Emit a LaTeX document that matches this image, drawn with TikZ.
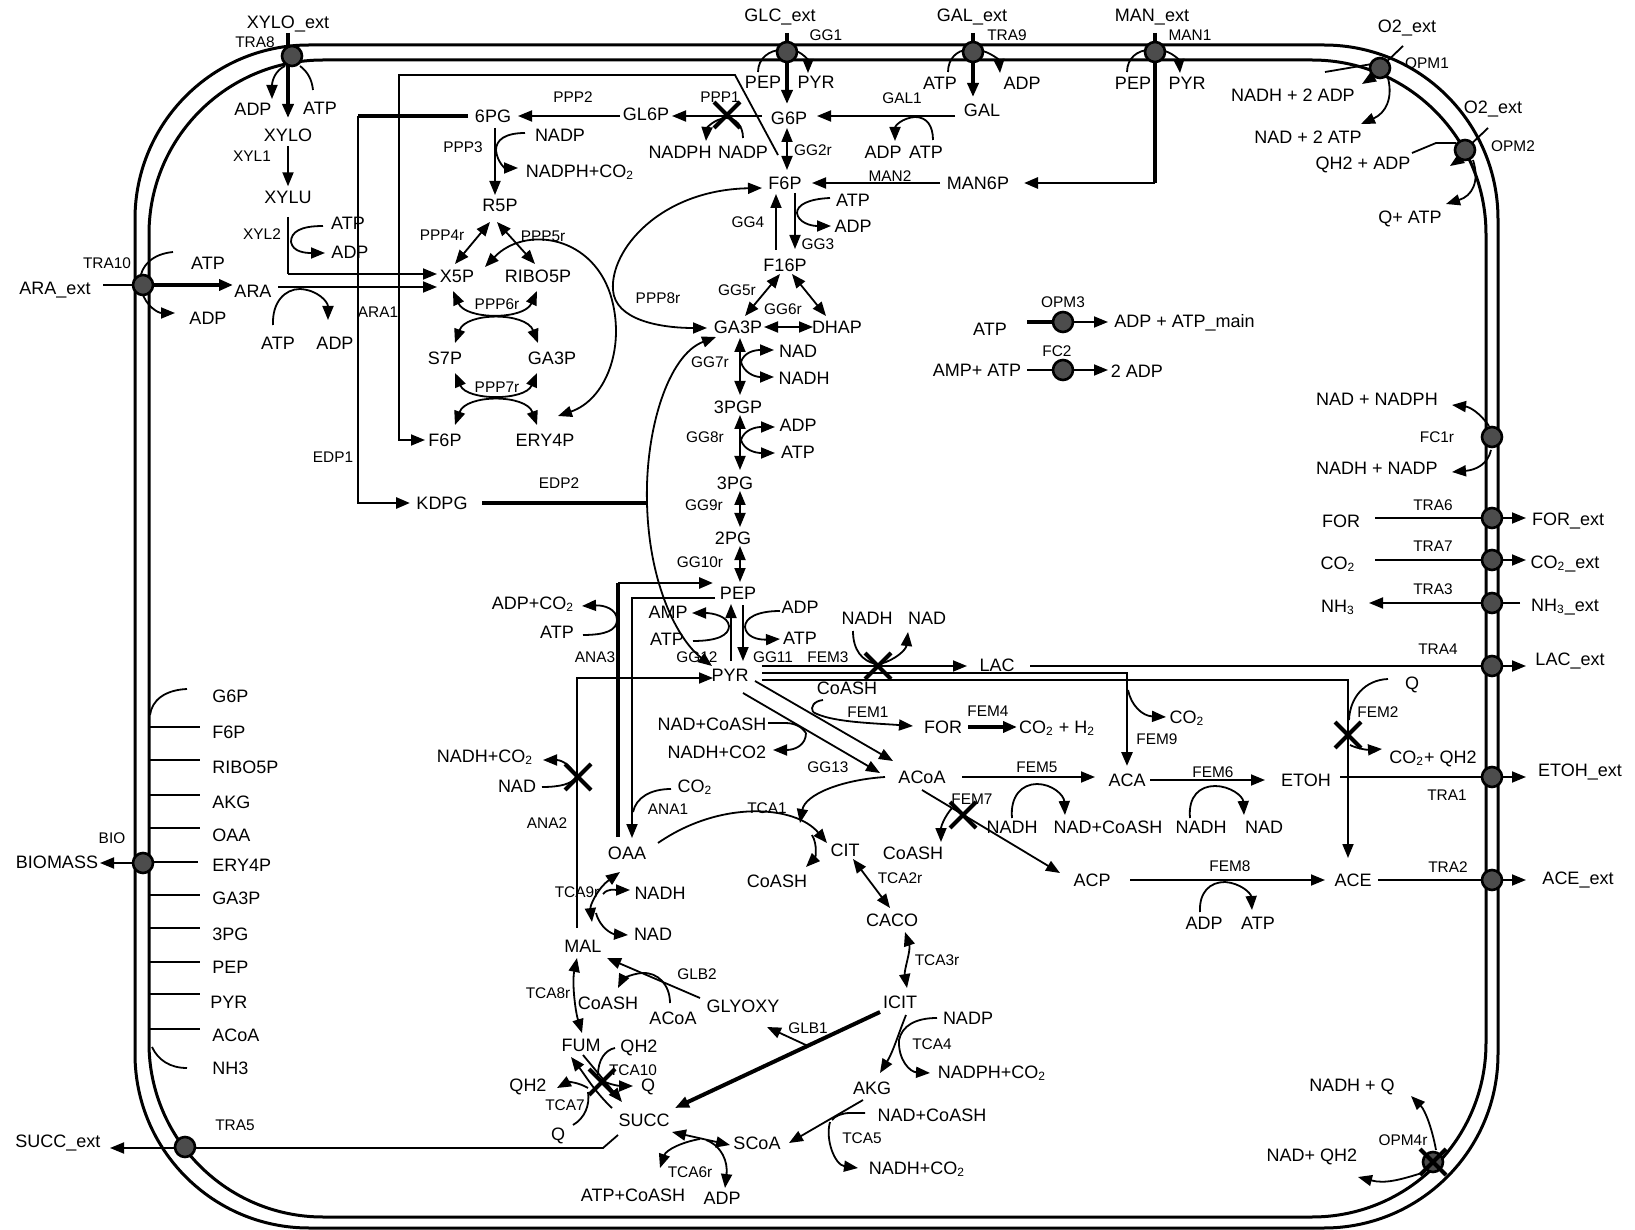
\documentclass[tikz,border=0pt]{standalone}
\usepackage{fontspec}
\setmainfont{Liberation Sans}
\usetikzlibrary{arrows.meta}
\begin{document}
\begin{tikzpicture}[x=0.5pt,y=-0.5pt,
  >={Triangle[length=7pt,width=5.5pt]},
  met/.style={font=\fontsize{9}{10}\selectfont,inner sep=2pt},
  rxn/.style={font=\fontsize{7.7}{9}\selectfont,inner sep=1pt},
  ln/.style={line width=0.9pt},
  mid/.style={line width=1.4pt},
  thk/.style={line width=2pt},
  ar/.style={line width=0.9pt,->},
  dar/.style={line width=0.9pt,<->},
  mem/.style={line width=1.5pt},
  bm/.style={line width=1.2pt},
  dot/.style={circle,fill=black!70,draw=black,line width=1.3pt,minimum size=10pt,inner sep=0pt},
  xx/.pic={\draw[line width=2pt] (-13,-13) -- (13,13) (-13,13) -- (13,-13);}
]
\useasboundingbox (0,0) rectangle (1635,1230);
% ---------------- membrane ----------------
\draw[mem,rounded corners=87pt] (135,45) rectangle (1498,1228);
\draw[mem,rounded corners=87pt] (149,60) rectangle (1486,1217);

% ---------------- texts: top left ----------------
\node[met] (xyloext) at (288,24) {XYLO\_ext};
\node[rxn] (tra8) at (255,42) {TRA8};
\node[met] (adpA) at (253,109) {ADP};
\node[met] (atpA) at (320,108) {ATP};
\node[met] (xylo) at (288,135) {XYLO};
\node[rxn] (xyl1) at (252,156) {XYL1};
\node[met] (xylu) at (288,197) {XYLU};
\node[rxn] (xyl2) at (262,234) {XYL2};
\node[met] (atpB) at (348,223) {ATP};
\node[met] (adpB) at (350,252) {ADP};
\node[rxn] (tra10) at (107,263) {TRA10};
\node[met] (araext) at (55,290) {ARA\_ext};
\node[met] (atpC) at (208,263) {ATP};
\node[met] (adpC) at (208,318) {ADP};
\node[met] (ara) at (253,291) {ARA};
\node[met] (atpD) at (278,343) {ATP};
\node[met] (adpD) at (335,343) {ADP};
\node[rxn] (ara1) at (378,312) {ARA1};
\node[rxn] (edp1) at (333,457) {EDP1};
\node[met] (kdpg) at (442,503) {KDPG};
\node[rxn] (edp2) at (559,483) {EDP2};
% ---------------- PPP ----------------
\node[met] (pg6) at (493,116) {6PG};
\node[rxn] (ppp2) at (573,97) {PPP2};
\node[met] (gl6p) at (646,114) {GL6P};
\node[rxn] (ppp1) at (720,97) {PPP1};
\node[met] (g6p) at (789,118) {G6P};
\node[met] (nadpA) at (560,135) {NADP};
\node[rxn] (ppp3) at (463,147) {PPP3};
\node[met] (nadphA) at (580,172) {NADPH+CO\textsubscript{2}};
\node[met] (nadphB) at (680,152) {NADPH};
\node[met] (nadpB) at (743,152) {NADP};
\node[rxn] (gg2r) at (813,150) {GG2r};
\node[met] (f6p) at (785,183) {F6P};
\node[met] (r5p) at (500,205) {R5P};
\node[rxn] (ppp4r) at (442,235) {PPP4r};
\node[rxn] (ppp5r) at (543,236) {PPP5r};
\node[met] (x5p) at (457,276) {X5P};
\node[met] (ribo5p) at (538,276) {RIBO5P};
\node[rxn] (ppp6r) at (497,304) {PPP6r};
\node[met] (s7p) at (445,358) {S7P};
\node[met] (ga3pB) at (552,358) {GA3P};
\node[rxn] (ppp7r) at (497,387) {PPP7r};
\node[met] (f6pB) at (445,440) {F6P};
\node[met] (ery4p) at (545,440) {ERY4P};
\node[rxn] (ppp8r) at (658,298) {PPP8r};
% ---------------- glycolysis ----------------
\node[met] (glcext) at (780,17) {GLC\_ext};
\node[rxn] (gg1) at (826,35) {GG1};
\node[met] (pepA) at (763,82) {PEP};
\node[met] (pyrA) at (816,82) {PYR};
\node[met] (galext) at (972,17) {GAL\_ext};
\node[rxn] (tra9) at (1007,35) {TRA9};
\node[met] (atpE) at (940,83) {ATP};
\node[met] (adpE) at (1022,83) {ADP};
\node[met] (gal) at (982,110) {GAL};
\node[rxn] (gal1) at (902,98) {GAL1};
\node[met] (adpF) at (883,152) {ADP};
\node[met] (atpF) at (926,152) {ATP};
\node[met] (manext) at (1152,17) {MAN\_ext};
\node[rxn] (man1) at (1190,35) {MAN1};
\node[met] (pepB) at (1133,83) {PEP};
\node[met] (pyrB) at (1187,83) {PYR};
\node[met] (man6p) at (978,183) {MAN6P};
\node[rxn] (man2) at (890,176) {MAN2};
\node[met] (atpG) at (853,200) {ATP};
\node[met] (adpG) at (853,226) {ADP};
\node[rxn] (gg3) at (818,244) {GG3};
\node[rxn] (gg4) at (748,222) {GG4};
\node[met] (f16p) at (785,265) {F16P};
\node[rxn] (gg5r) at (737,290) {GG5r};
\node[rxn] (gg6r) at (783,309) {GG6r};
\node[met] (ga3p) at (738,327) {GA3P};
\node[met] (dhap) at (837,327) {DHAP};
\node[met] (nadA) at (798,351) {NAD};
\node[met] (nadhA) at (804,378) {NADH};
\node[rxn] (gg7r) at (710,362) {GG7r};
\node[met] (pgp3) at (738,407) {3PGP};
\node[met] (adpH) at (798,425) {ADP};
\node[met] (atpH) at (798,452) {ATP};
\node[rxn] (gg8r) at (705,437) {GG8r};
\node[met] (pg3) at (735,483) {3PG};
\node[rxn] (gg9r) at (704,505) {GG9r};
\node[met] (pg2) at (733,538) {2PG};
\node[rxn] (gg10r) at (700,562) {GG10r};
\node[met] (pep) at (738,593) {PEP};
\node[met] (adpco2) at (533,604) {ADP+CO\textsubscript{2}};
\node[met] (atpI) at (557,632) {ATP};
\node[rxn] (ana3) at (595,657) {ANA3};
\node[met] (amp) at (668,612) {AMP};
\node[met] (atpJ) at (667,639) {ATP};
\node[met] (adpK) at (800,607) {ADP};
\node[met] (atpK) at (800,638) {ATP};
\node[rxn] (gg12) at (697,657) {GG12};
\node[rxn] (gg11) at (773,657) {GG11};
\node[rxn] (fem3) at (828,657) {FEM3};
\node[met] (pyr) at (730,675) {PYR};
% ---------------- fermentation ----------------
\node[met] (nadhB) at (867,618) {NADH};
\node[met] (nadB) at (927,618) {NAD};
\node[met] (lac) at (997,665) {LAC};
\node[met] (coashA) at (847,688) {CoASH};
\node[rxn] (fem1) at (868,712) {FEM1};
\node[met] (for) at (943,727) {FOR};
\node[rxn] (fem4) at (988,711) {FEM4};
\node[met] (co2h2) at (1057,728) {CO\textsubscript{2} + H\textsubscript{2}};
\node[met] (co2A) at (1187,718) {CO\textsubscript{2}};
\node[rxn] (fem9) at (1157,739) {FEM9};
\node[met] (nadcoashA) at (712,724) {NAD+CoASH};
\node[met] (nadhco2A) at (717,752) {NADH+CO2};
\node[rxn] (gg13) at (828,767) {GG13};
\node[met] (acoa) at (922,777) {ACoA};
\node[rxn] (fem5) at (1037,767) {FEM5};
\node[met] (aca) at (1127,780) {ACA};
\node[rxn] (fem6) at (1213,772) {FEM6};
\node[met] (etoh) at (1306,780) {ETOH};
\node[met] (nadhC) at (1012,827) {NADH};
\node[met] (nadcoashB) at (1108,827) {NAD+CoASH};
\node[met] (nadhD) at (1201,827) {NADH};
\node[met] (nadC) at (1264,827) {NAD};
\node[rxn] (fem7) at (972,799) {FEM7};
\node[met] (coashB) at (913,853) {CoASH};
\node[met] (acp) at (1092,880) {ACP};
\node[rxn] (fem8) at (1230,866) {FEM8};
\node[met] (adpL) at (1204,923) {ADP};
\node[met] (atpL) at (1258,923) {ATP};
\node[met] (ace) at (1353,880) {ACE};
\node[met] (qA) at (1412,685) {Q};
\node[rxn] (fem2) at (1378,712) {FEM2};
\node[met] (co2qh2) at (1433,759) {CO\textsubscript{2}+ QH2};
% ---------------- right side ----------------
\node[met] (o2extA) at (1407,28) {O2\_ext};
\node[rxn] (opm1) at (1427,63) {OPM1};
\node[met] (nadh2adp) at (1293,95) {NADH + 2 ADP};
\node[met] (nad2atp) at (1308,137) {NAD + 2 ATP};
\node[met] (o2extB) at (1493,109) {O2\_ext};
\node[rxn] (opm2) at (1513,146) {OPM2};
\node[met] (qh2adp) at (1363,165) {QH2 + ADP};
\node[met] (qatp) at (1410,219) {Q+ ATP};
\node[rxn] (opm3) at (1063,302) {OPM3};
\node[met] (atpM) at (990,329) {ATP};
\node[met,anchor=west] (adpatpmain) at (1110,323) {ADP + ATP\_main};
\node[rxn] (fc2) at (1057,351) {FC2};
\node[met] (ampatp) at (977,370) {AMP+ ATP};
\node[met] (adp2) at (1137,371) {2 ADP};
\node[met] (nadnadph) at (1377,399) {NAD + NADPH};
\node[rxn] (fc1r) at (1437,437) {FC1r};
\node[met] (nadhnadp) at (1377,468) {NADH + NADP};
\node[rxn] (tra6) at (1433,505) {TRA6};
\node[met] (forB) at (1341,521) {FOR};
\node[met] (forext) at (1568,521) {FOR\_ext};
\node[rxn] (tra7) at (1433,546) {TRA7};
\node[met] (co2B) at (1338,564) {CO\textsubscript{2}};
\node[met] (co2ext) at (1565,564) {CO\textsubscript{2}\_ext};
\node[rxn] (tra3) at (1433,589) {TRA3};
\node[met] (nh3) at (1338,607) {NH\textsubscript{3}};
\node[met] (nh3ext) at (1565,607) {NH\textsubscript{3}\_ext};
\node[rxn] (tra4) at (1438,649) {TRA4};
\node[met] (lacext) at (1570,661) {LAC\_ext};
\node[met] (etohext) at (1580,772) {ETOH\_ext};
\node[rxn] (tra1) at (1447,795) {TRA1};
\node[rxn] (tra2) at (1448,867) {TRA2};
\node[met] (aceext) at (1578,880) {ACE\_ext};
\node[met] (nadhq) at (1352,1087) {NADH + Q};
\node[rxn] (opm4r) at (1403,1140) {OPM4r};
\node[met] (nadqh2) at (1312,1157) {NAD+ QH2};
% ---------------- biomass ----------------
\node[rxn] (bio) at (112,838) {BIO};
\node[met] (biomass) at (57,862) {BIOMASS};
\node[met,anchor=west] (bG6P) at (208,696) {G6P};
\node[met,anchor=west] (bF6P) at (208,732) {F6P};
\node[met,anchor=west] (bR5P) at (208,767) {RIBO5P};
\node[met,anchor=west] (bAKG) at (208,802) {AKG};
\node[met,anchor=west] (bOAA) at (208,835) {OAA};
\node[met,anchor=west] (bE4P) at (208,865) {ERY4P};
\node[met,anchor=west] (bGA3P) at (208,898) {GA3P};
\node[met,anchor=west] (b3PG) at (208,934) {3PG};
\node[met,anchor=west] (bPEP) at (208,967) {PEP};
\node[met,anchor=west] (bPYR) at (206,1002) {PYR};
\node[met,anchor=west] (bACOA) at (208,1035) {ACoA};
\node[met,anchor=west] (bNH3) at (208,1068) {NH3};
% ---------------- TCA ----------------
\node[rxn] (ana2) at (547,823) {ANA2};
\node[met] (oaa) at (627,853) {OAA};
\node[met] (coashC) at (777,881) {CoASH};
\node[rxn] (tca9r) at (577,892) {TCA9r};
\node[met] (nadhE) at (660,893) {NADH};
\node[met] (nadD) at (653,934) {NAD};
\node[met] (mal) at (583,946) {MAL};
\node[rxn] (glb2) at (697,974) {GLB2};
\node[rxn] (tca8r) at (548,993) {TCA8r};
\node[met] (coashD) at (608,1003) {CoASH};
\node[met] (acoaB) at (673,1018) {ACoA};
\node[met] (glyoxy) at (743,1006) {GLYOXY};
\node[rxn] (glb1) at (808,1028) {GLB1};
\node[met] (fum) at (581,1045) {FUM};
\node[met] (qh2A) at (639,1048) {QH2};
\node[rxn] (tca10) at (633,1070) {TCA10};
\node[met] (qB) at (648,1087) {Q};
\node[met] (qh2B) at (528,1087) {QH2};
\node[rxn] (tca7) at (565,1105) {TCA7};
\node[met] (succ) at (644,1120) {SUCC};
\node[met] (qC) at (558,1136) {Q};
\node[met] (scoa) at (757,1143) {SCoA};
\node[rxn] (tca6r) at (690,1172) {TCA6r};
\node[met] (atpcoash) at (633,1195) {ATP+CoASH};
\node[met] (adpN) at (722,1198) {ADP};
\node[met] (nadhco2B) at (485,757) {NADH+CO\textsubscript{2}};
\node[met] (nadE) at (517,786) {NAD};
\node[met] (co2C) at (695,787) {CO\textsubscript{2}};
\node[rxn] (ana1) at (668,809) {ANA1};
\node[rxn] (tca1) at (767,808) {TCA1};
\node[met] (cit) at (845,850) {CIT};
\node[rxn] (tca2r) at (900,878) {TCA2r};
\node[met] (caco) at (892,920) {CACO};
\node[rxn] (tca3r) at (937,960) {TCA3r};
\node[met] (icit) at (900,1002) {ICIT};
\node[met] (nadpC) at (968,1018) {NADP};
\node[rxn] (tca4) at (932,1044) {TCA4};
\node[met] (nadphco2) at (992,1073) {NADPH+CO\textsubscript{2}};
\node[met] (akg) at (872,1088) {AKG};
\node[met] (nadcoashC) at (932,1115) {NAD+CoASH};
\node[rxn] (tca5) at (862,1138) {TCA5};
\node[met] (nadhco2C) at (917,1169) {NADH+CO\textsubscript{2}};
\node[rxn] (tra5) at (235,1125) {TRA5};
\node[met] (succext) at (58,1143) {SUCC\_ext};

% ================= connectors =================
% TRA8
\draw[thk,->] (288,33) -- (288,118);
\draw[ar] (285,66) .. controls (276,70) and (272,80) .. (272,99);
\draw[ln] (313,90) .. controls (312,80) and (308,72) .. (300,66);
% XYL1, XYL2
\draw[ar] (xylo) -- (xylu);
\draw[mid] (288,217) -- (288,274);
\draw[ar] (288,274) -- (437,274);
\draw[ln] (323,226) .. controls (300,226) and (291,232) .. (291,242);
\draw[ar] (291,242) .. controls (293,252) and (305,253) .. (325,253);
% TRA10 and ARA1
\draw[ln] (103,285) -- (145,285);
\draw[thk,->] (145,285) -- (233,285);
\draw[ln] (173,252) .. controls (152,254) and (141,266) .. (140,280);
\draw[ar] (142,292) .. controls (146,306) and (158,313) .. (175,313);
\draw[ar] (278,287) -- (437,287);
\draw[ln] (273,325) .. controls (272,302) and (285,289) .. (300,289);
\draw[ar] (300,289) .. controls (318,290) and (328,302) .. (328,320);
% F6P link
\draw[ar] (778,155) -- (735,75) -- (399,75) -- (399,440) -- (425,440);
% EDP1, EDP2
\draw[thk] (468,116) -- (358,116);
\draw[mid,->] (358,116) -- (358,503) -- (410,503);
\draw[thk] (482,503) -- (647,503);
\draw[dar] (716,337) .. controls (668,355) and (645,430) .. (647,503) .. controls (649,585) and (678,640) .. (712,666);
% PPP1-3
\draw[ar] (762,116) -- (672,116);
\draw[ln] (743,138) .. controls (743,126) and (736,118) .. (726,118);
\draw[ar] (726,118) .. controls (714,119) and (707,128) .. (706,141);
\draw[ar] (620,116) -- (518,116);
\draw[ar] (495,128) -- (495,195);
\draw[ln] (525,133) .. controls (505,133) and (496,140) .. (496,150);
\draw[ar] (496,150) .. controls (497,162) and (505,168) .. (518,168);
% GG1, GG2r
\draw[thk,->] (787,33) -- (787,104);
\draw[ln] (758,72) .. controls (758,58) and (770,50) .. (781,50);
\draw[ar] (793,50) .. controls (802,52) and (808,60) .. (808,73);
\draw[dar] (787,128) -- (787,170);
% TRA9, GAL1
\draw[thk,->] (973,33) -- (973,97);
\draw[ln] (948,72) .. controls (948,58) and (958,50) .. (967,50);
\draw[ar] (979,50) .. controls (990,52) and (999,60) .. (1000,73);
\draw[ar] (955,116) -- (817,116);
\draw[ln] (933,140) .. controls (933,126) and (927,117) .. (915,117);
\draw[ar] (915,117) .. controls (902,118) and (895,126) .. (895,141);
% MAN1, MAN2
\draw[thk] (1155,33) -- (1155,183);
\draw[mid,->] (1155,183) -- (1024,183);
\draw[ln] (1127,72) .. controls (1127,58) and (1138,50) .. (1149,50);
\draw[ar] (1161,50) .. controls (1172,52) and (1179,60) .. (1180,73);
\draw[ar] (940,183) -- (812,183);
% GG3, GG4
\draw[ar] (795,193) -- (795,249);
\draw[ln] (830,198) .. controls (808,199) and (797,205) .. (797,213);
\draw[ar] (797,213) .. controls (798,222) and (810,226) .. (831,226);
\draw[ar] (776,250) -- (776,194);
% GG5r GG6r TPI
\draw[dar] (780,274) -- (745,316);
\draw[dar] (792,274) -- (826,316);
\draw[dar] (764,327) -- (813,327);
% GG7r..GG10r
\draw[dar] (740,338) -- (740,395);
\draw[ar] (741,362) .. controls (744,352) and (755,350) .. (774,350);
\draw[ar] (741,362) .. controls (744,373) and (755,377) .. (774,377);
\draw[dar] (740,415) -- (740,470);
\draw[ar] (741,440) .. controls (744,430) and (755,427) .. (775,427);
\draw[ar] (741,440) .. controls (744,450) and (755,453) .. (775,453);
\draw[dar] (740,491) -- (740,527);
\draw[dar] (740,546) -- (740,582);
% GG11 GG12
\draw[ar] (743,605) -- (743,661);
\draw[ln] (780,611) .. controls (757,611) and (745,618) .. (745,627);
\draw[ar] (745,627) .. controls (746,637) and (758,640) .. (780,639);
\draw[ar] (731,661) -- (731,604);
\draw[ln] (693,641) .. controls (718,641) and (729,635) .. (729,626);
\draw[ar] (729,626) .. controls (728,616) and (712,613) .. (692,613);
% PPP4r..PPP8r
\draw[dar] (490,222) -- (455,264);
\draw[dar] (497,222) -- (535,264);
\draw[dar] (453,291) .. controls (466,320) and (524,320) .. (537,291);
\draw[dar] (455,343) .. controls (466,312) and (526,312) .. (538,343);
\draw[dar] (455,373) .. controls (467,401) and (525,401) .. (537,373);
\draw[dar] (455,425) .. controls (466,394) and (526,394) .. (537,425);
\draw[dar] (485,267) .. controls (525,225) and (595,235) .. (612,300) .. controls (625,350) and (605,400) .. (558,416);
\draw[dar] (762,188) .. controls (660,190) and (610,250) .. (613,290) .. controls (615,320) and (660,328) .. (707,328);
% ANA3, ANA1, ANA2
\draw[thk] (618,837) -- (618,583);
\draw[mid,->] (618,583) -- (713,583);
\draw[ln] (583,635) .. controls (606,635) and (617,630) .. (617,620);
\draw[ar] (617,620) .. controls (617,609) and (604,605) .. (582,606);
\draw[ar] (715,598) -- (632,598) -- (632,838);
\draw[ln] (671,789) .. controls (650,789) and (636,798) .. (633,812);
\draw[ar] (577,928) -- (577,678) -- (713,678);
\draw[ln] (542,787) .. controls (560,787) and (572,784) .. (576,777);
\draw[ar] (576,777) .. controls (572,766) and (562,760) .. (543,760);
% FEM3, TRA4
\draw[ar] (762,666) -- (967,666);
\draw[ln] (853,631) .. controls (853,650) and (862,661) .. (876,664);
\draw[ar] (880,664) .. controls (895,660) and (906,650) .. (908,632);
\draw[ln] (1030,666) -- (1493,666);
\draw[ar] (1493,666) -- (1526,666);
% FEM9, FEM2
\draw[mid,->] (762,673) -- (1127,673) -- (1127,766);
\draw[ar] (1128,690) .. controls (1131,705) and (1142,716) .. (1166,717);
\draw[ar] (762,680) -- (1348,680) -- (1348,858);
\draw[ln] (1388,679) .. controls (1365,680) and (1350,697) .. (1349,720);
\draw[ar] (1350,745) .. controls (1356,748) and (1366,750) .. (1382,749);
% FEM1, GG13
\draw[ar] (755,681) -- (893,761);
\draw[ar] (743,693) -- (880,773);
\draw[ln] (823,700) .. controls (814,701) and (810,707) .. (813,712);
\draw[ar] (813,712) .. controls (830,722) and (870,723) .. (913,726);
\draw[ln] (768,723) -- (785,723) .. controls (795,723) and (802,727) .. (806,733);
\draw[ar] (806,733) .. controls (806,745) and (795,750) .. (773,750);
% FEM4 FEM5 FEM6 TRA1
\draw[thk,->] (968,727) -- (1017,727);
\draw[ar] (962,777) -- (1095,777);
\draw[ln] (1012,818) .. controls (1010,796) and (1022,784) .. (1037,784);
\draw[ar] (1037,784) .. controls (1052,784) and (1064,795) .. (1065,815);
\draw[ar] (1150,780) -- (1265,780);
\draw[ln] (1190,818) .. controls (1188,796) and (1200,786) .. (1215,786);
\draw[ar] (1215,786) .. controls (1230,786) and (1243,796) .. (1244,815);
\draw[ln] (1340,777) -- (1493,777);
\draw[ar] (1493,777) -- (1526,777);
% FEM7 FEM8 TRA2
\draw[ar] (922,790) -- (1060,873);
\draw[ar] (952,808) .. controls (945,816) and (941,826) .. (941,842);
\draw[ar] (1130,880) -- (1325,880);
\draw[ln] (1200,912) .. controls (1199,892) and (1210,882) .. (1225,882);
\draw[ar] (1225,882) .. controls (1240,883) and (1251,893) .. (1252,910);
\draw[ln] (1378,880) -- (1494,880);
\draw[ar] (1494,880) -- (1526,880);
% TCA1
\draw[ar] (658,843) .. controls (720,800) and (795,805) .. (827,843);
\draw[ar] (885,777) .. controls (840,780) and (805,795) .. (800,823);
\draw[ar] (812,835) .. controls (818,845) and (815,858) .. (806,867);
% TCA2r..TCA6r
\draw[dar] (853,859) -- (890,908);
\draw[dar] (905,932) .. controls (911,950) and (904,970) .. (907,988);
\draw[ar] (906,1015) .. controls (898,1035) and (893,1052) .. (880,1073);
\draw[ln] (937,1018) .. controls (915,1018) and (902,1026) .. (899,1040);
\draw[ar] (899,1040) .. controls (898,1060) and (910,1072) .. (930,1073);
\draw[ar] (863,1100) -- (789,1143);
\draw[ln] (865,1113) -- (850,1113) .. controls (842,1113) and (835,1116) .. (832,1120);
\draw[ar] (830,1122) .. controls (825,1140) and (835,1165) .. (858,1168);
\draw[dar] (672,1132) -- (730,1145);
\draw[ar] (700,1139) .. controls (682,1142) and (666,1150) .. (660,1168);
\draw[ar] (706,1140) .. controls (722,1146) and (728,1162) .. (725,1188);
% TCA7 TCA10 TCA8r TCA9r
\draw[dar] (577,958) .. controls (572,982) and (575,1010) .. (582,1033);
\draw[dar] (620,872) .. controls (598,888) and (590,905) .. (592,922);
\draw[ar] (603,894) .. controls (608,888) and (615,890) .. (630,890);
\draw[ar] (596,913) .. controls (600,928) and (612,934) .. (628,935);
\draw[ar] (583,1055) -- (622,1102);
\draw[ln] (615,1048) .. controls (605,1050) and (598,1060) .. (598,1075);
\draw[ar] (605,1082) .. controls (615,1086) and (622,1086) .. (633,1086);
\draw[ar] (612,1108) .. controls (595,1092) and (585,1075) .. (571,1057);
\draw[ar] (588,1088) .. controls (578,1082) and (568,1082) .. (557,1088);
\draw[ln] (573,1125) .. controls (585,1118) and (590,1105) .. (588,1092);
% GLB1 GLB2
\draw[thk,->] (880,1012) -- (675,1108);
\draw[ar] (808,1046) -- (767,1027);
\draw[ar] (700,998) -- (607,958);
\draw[ar] (670,1003) .. controls (670,985) and (658,972) .. (642,973) .. controls (630,974) and (622,980) .. (618,988);
% TRA5
\draw[ln] (618,1135) -- (603,1148) -- (185,1148);
\draw[ar] (185,1148) -- (110,1148);
% biomass
\draw[ln] (150,715) .. controls (152,700) and (165,690) .. (187,689);
\draw[bm] (150,727) -- (200,727);
\draw[bm] (150,760) -- (200,760);
\draw[bm] (150,795) -- (200,795);
\draw[ln] (150,828) -- (200,828);
\draw[ln] (145,862) -- (198,862);
\draw[bm] (150,895) -- (200,895);
\draw[ln] (150,928) -- (200,928);
\draw[ln] (150,962) -- (200,962);
\draw[bm] (150,994) -- (200,994);
\draw[bm] (150,1029) -- (200,1029);
\draw[ln] (152,1047) .. controls (158,1060) and (170,1068) .. (187,1068);
\draw[ar] (145,863) -- (100,863);
% right side
\draw[ln] (1403,46) -- (1380,68);
\draw[ln] (1325,72) -- (1372,64);
\draw[ar] (1378,74) -- (1362,84);
\draw[ar] (1388,78) .. controls (1393,98) and (1386,113) .. (1361,124);
\draw[ln] (1488,128) -- (1465,150);
\draw[ln] (1412,153) -- (1436,143) -- (1456,143);
\draw[ar] (1462,158) -- (1450,166);
\draw[ar] (1473,160) .. controls (1480,182) and (1472,196) .. (1446,204);
\draw[ar] (1489,426) .. controls (1480,413) and (1470,407) .. (1452,405);
\draw[ar] (1491,450) .. controls (1488,464) and (1476,470) .. (1452,472);
\draw[ln] (1375,518) -- (1493,518);
\draw[ar] (1493,518) -- (1526,518);
\draw[ln] (1375,560) -- (1493,560);
\draw[ar] (1493,560) -- (1526,560);
\draw[ln] (1520,603) -- (1493,603);
\draw[ar] (1493,603) -- (1369,603);
\draw[thk] (1027,322) -- (1063,322);
\draw[ar] (1063,322) -- (1108,322);
\draw[ln] (1027,370) -- (1063,370);
\draw[ar] (1063,370) -- (1108,370);
\draw[ar] (1436,1150) .. controls (1432,1128) and (1425,1110) .. (1411,1096);
\draw[ar] (1425,1172) .. controls (1400,1180) and (1385,1184) .. (1358,1177);

% ================= transporter dots =================
\node[dot] (dTRA8) at (292,56) {};
\node[dot] (dGG1) at (787,52) {};
\node[dot] (dTRA9) at (973,52) {};
\node[dot] (dMAN1) at (1155,52) {};
\node[dot] (dOPM1) at (1380,68) {};
\node[dot] (dOPM2) at (1465,150) {};
\node[dot] (dFC1) at (1492,437) {};
\node[dot] (dTRA6) at (1492,518) {};
\node[dot] (dTRA7) at (1492,560) {};
\node[dot] (dTRA3) at (1492,603) {};
\node[dot] (dTRA4) at (1492,666) {};
\node[dot] (dTRA1) at (1492,777) {};
\node[dot] (dTRA2) at (1492,880) {};
\node[dot] (dOPM4) at (1433,1162) {};
\node[dot] (dTRA10) at (143,285) {};
\node[dot] (dBIO) at (143,863) {};
\node[dot] (dTRA5) at (185,1147) {};
\node[dot] (dOPM3) at (1063,322) {};
\node[dot] (dFC2) at (1063,370) {};

% ================= knockouts =================
\pic at (727,115) {xx};
\pic at (578,777) {xx};
\pic at (878,666) {xx};
\pic at (1348,735) {xx};
\pic at (963,815) {xx};
\pic at (602,1082) {xx};
\pic at (1433,1162) {xx};
\end{tikzpicture}
\end{document}
